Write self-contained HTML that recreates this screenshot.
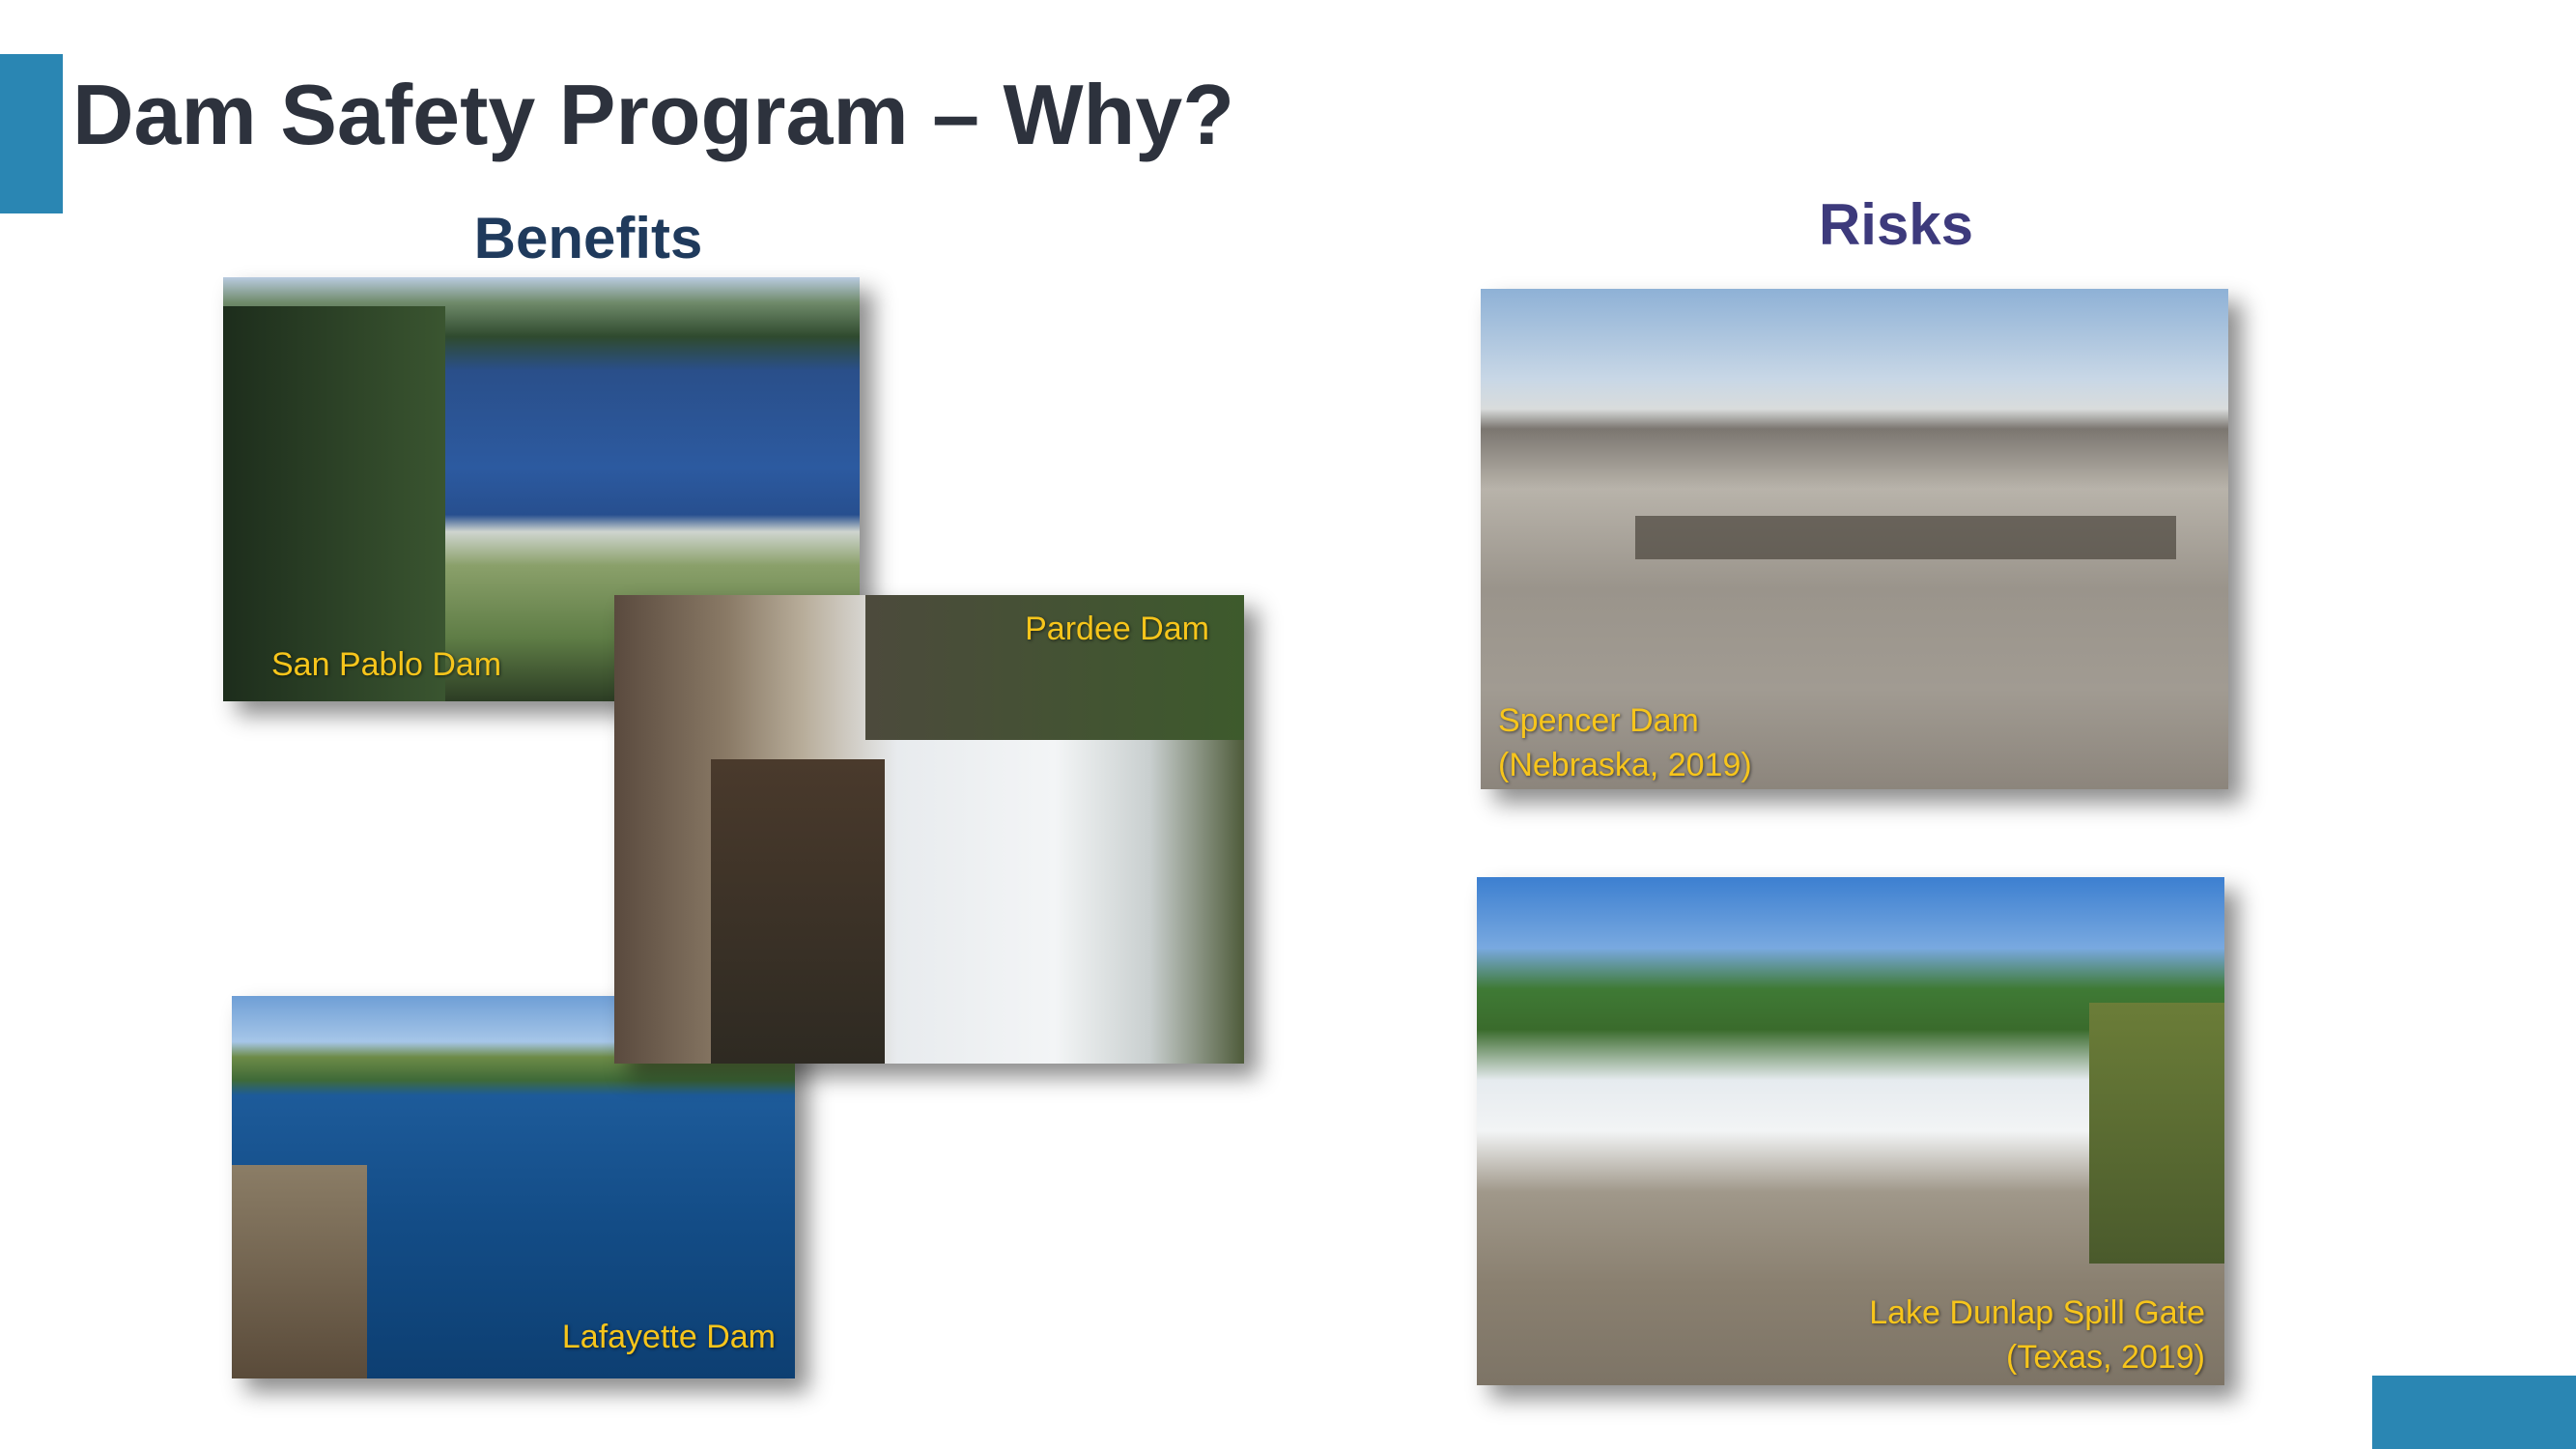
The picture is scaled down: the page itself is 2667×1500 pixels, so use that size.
<!DOCTYPE html>
<html><head><meta charset="utf-8">
<style>
html,body{margin:0;padding:0;}
body{width:2667px;height:1500px;position:relative;background:#fff;overflow:hidden;font-family:"Liberation Sans",sans-serif;}
.abs{position:absolute;}
.photo{position:absolute;box-shadow:14px 14px 22px rgba(0,0,0,0.45);overflow:hidden;}
.cap{position:absolute;color:#f7c51b;font-size:34px;text-shadow:1px 1px 3px rgba(0,0,0,0.6);line-height:46px;}
</style></head><body>
<div class="abs" style="left:0;top:56px;width:65px;height:165px;background:#2a86b3;"></div>
<div class="abs" style="left:75px;top:68px;font-size:88px;font-weight:bold;color:#2d323d;white-space:nowrap;">Dam Safety Program – Why?</div>
<div class="abs" style="left:409px;top:212px;width:400px;text-align:center;font-size:60px;font-weight:bold;color:#1f3a5c;">Benefits</div>
<div class="abs" style="left:1763px;top:198px;width:400px;text-align:center;font-size:60px;font-weight:bold;color:#3d3a7c;">Risks</div>

<div class="photo" style="left:231px;top:287px;width:659px;height:439px;background:linear-gradient(180deg,#b9cbe0 0%,#6f8a6a 6%,#2f4a2e 14%,#2a4f8a 22%,#2c5aa0 45%,#274f8f 56%,#cfd5cf 60%,#8aa06a 68%,#5f7d46 85%,#2c3d24 100%);">
<div class="abs" style="left:0;top:30px;width:230px;height:409px;background:linear-gradient(90deg,#1d2d1c,#3a5530);"></div>
<div class="cap" style="left:50px;top:378px;">San Pablo Dam</div></div>

<div class="photo" style="left:240px;top:1031px;width:583px;height:396px;background:linear-gradient(180deg,#6f9fd6 0%,#a6c6e8 12%,#6d8b47 16%,#3f6a38 22%,#1d5b9a 26%,#134c86 60%,#0d3f72 100%);">
<div class="abs" style="left:0;top:175px;width:140px;height:221px;background:linear-gradient(180deg,#8b7d66,#5a4b3a);"></div>
<div class="cap" style="right:20px;top:330px;">Lafayette Dam</div></div>

<div class="photo" style="left:636px;top:616px;width:652px;height:485px;background:linear-gradient(90deg,#5a4a3e 0%,#8a7a66 18%,#b8ad9a 30%,#e8ebee 45%,#f3f5f6 70%,#c9cfcf 85%,#4e5b3a 100%);">
<div class="abs" style="left:260px;top:0;width:392px;height:150px;background:linear-gradient(90deg,#4c4a3c,#3d5a2c);"></div>
<div class="abs" style="left:100px;top:170px;width:180px;height:315px;background:linear-gradient(180deg,#4a3a2c,#2e2a22);"></div>
<div class="cap" style="right:36px;top:12px;">Pardee Dam</div></div>

<div class="photo" style="left:1533px;top:299px;width:774px;height:518px;background:linear-gradient(180deg,#8eb1d6 0%,#c8d7e6 18%,#d9dcdc 24%,#7b7670 28%,#b8b3aa 40%,#9a948b 60%,#a19b92 80%,#8c857c 100%);">
<div class="abs" style="left:160px;top:235px;width:560px;height:45px;background:#4a443c;opacity:0.7;"></div>
<div class="cap" style="left:18px;top:424px;">Spencer Dam<br>(Nebraska, 2019)</div></div>

<div class="photo" style="left:1529px;top:908px;width:774px;height:526px;background:linear-gradient(180deg,#3c7fd0 0%,#79a9e0 14%,#3f7a35 22%,#3a6b2c 30%,#e6ebef 40%,#f2f4f5 50%,#a0988a 62%,#8a8070 80%,#7d7466 100%);">
<div class="abs" style="right:0;top:130px;width:140px;height:270px;background:linear-gradient(180deg,#6b7d38,#4a5a2c);"></div>
<div class="cap" style="right:20px;top:428px;text-align:right;">Lake Dunlap Spill Gate<br>(Texas, 2019)</div></div>

<div class="abs" style="left:2456px;top:1424px;width:211px;height:76px;background:#2a86b3;"></div>
</body></html>
